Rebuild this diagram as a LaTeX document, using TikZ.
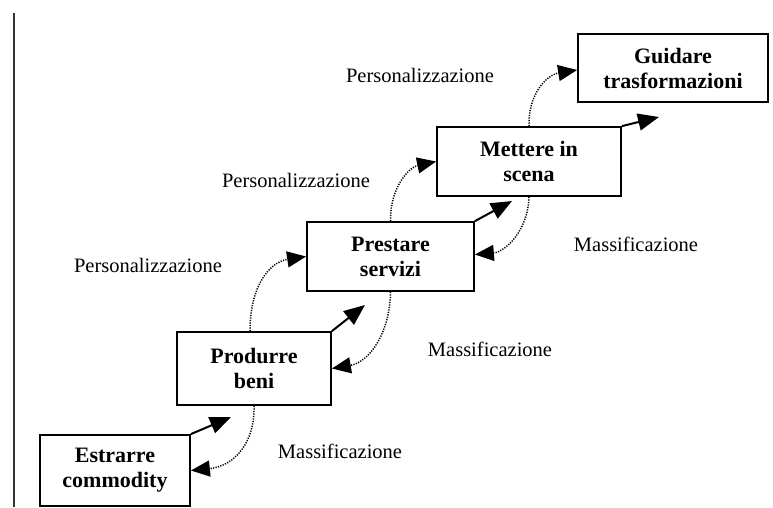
\documentclass[tikz,border=0pt]{standalone}
\usepackage{fontspec}
\setmainfont{Liberation Serif}
\usetikzlibrary{arrows.meta}

\begin{document}
\begin{tikzpicture}[x=1pt, y=-1pt,
  stage/.style={draw, line width=1.8pt, align=center, inner sep=0pt,
    font=\fontsize{22}{25}\selectfont\bfseries},
  lbl/.style={anchor=base, inner sep=0pt, font=\fontsize{20.5}{24}\selectfont},
  growth/.style={line width=2pt, -{Triangle[length=21pt, width=17pt]}},
  drift/.style={line width=1.5pt, dash pattern=on 1.2pt off 1.3pt,
    -{Triangle[length=19pt, width=16pt]}}
]
  \useasboundingbox[fill=white] (0,0) rectangle (773,507);

  % left margin rule
  \draw[line width=1.5pt, black!80] (14,13) -- (14,507);

  % stages of the economic progression
  \node[stage, minimum width=150pt, minimum height=71pt] (estr) at (115,470.5) {Estrarre\\commodity};
  \node[stage, minimum width=154pt, minimum height=73pt] (prod) at (254,368.5) {Produrre\\beni};
  \node[stage, minimum width=167pt, minimum height=69pt] (prest) at (390.5,256.5) {Prestare\\servizi};
  \node[stage, minimum width=184pt, minimum height=69pt] (mett) at (529,161.5) {Mettere in\\scena};
  \node[stage, minimum width=190pt, minimum height=68pt] (guid) at (673,68) {Guidare\\trasformazioni};

  % free ends of the growth arrows
  \coordinate (g1) at (231,417);
  \coordinate (g2) at (365,305);
  \coordinate (g3) at (512,201);
  \coordinate (g4) at (659,117);

  \draw[growth] (estr.north east) -- (g1);
  \draw[growth] (prod.north east) -- (g2);
  \draw[growth] (prest.north east) -- (g3);
  \draw[growth] (mett.north east) -- (g4);

  % personalizzazione: upward moves
  \draw[drift] ([xshift=-4pt]prod.north) .. controls (250,285) and (270,262) .. (prest.west);
  \draw[drift] (prest.north) .. controls (390,186) and (410,167) .. (mett.west);
  \draw[drift] (mett.north) .. controls (528,95) and (546,75) .. ([yshift=-2pt]guid.west);

  % massificazione: downward moves
  \draw[drift] (prod.south) .. controls (255,442) and (235,466) .. (estr.east);
  \draw[drift] (prest.south) .. controls (390,332) and (370,362) .. (prod.east);
  \draw[drift] (mett.south) .. controls (528,231) and (505,252) .. ([yshift=2pt]prest.east);

  % labels
  \node[lbl] at (148,272) {Personalizzazione};
  \node[lbl] at (296,187) {Personalizzazione};
  \node[lbl] at (420,82) {Personalizzazione};
  \node[lbl] at (340,458) {Massificazione};
  \node[lbl] at (490,356) {Massificazione};
  \node[lbl] at (636,251) {Massificazione};
\end{tikzpicture}
\end{document}
